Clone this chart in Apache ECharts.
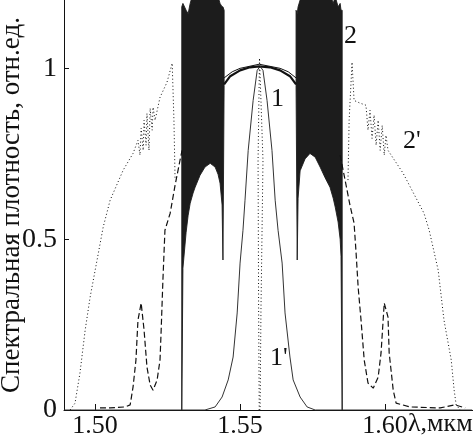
<!DOCTYPE html>
<html>
<head>
<meta charset="utf-8">
<script src="https://cdn.jsdelivr.net/npm/echarts@6/dist/echarts.min.js"></script>
<style>
  html, body { margin: 0; padding: 0; background: #fff; }
  #chart { width: 473px; height: 442px; }
</style>
</head>
<body>
<div id="chart"></div>
<script>
// tick labels
var xTicks = [1.50, 1.55, 1.60]
var yTicks = [0, 0.5, 1]

// curve 1 (input spectrum, solid)
var c1X = [1.4893, 1.5379, 1.5414, 1.5438, 1.5459, 1.5476, 1.5490, 1.5500, 1.5510, 1.5517, 1.5528, 1.5545, 1.5559, 1.5569, 1.5579, 1.5593, 1.5610, 1.5621, 1.5631, 1.5645, 1.5655, 1.5672, 1.5683, 1.5707, 1.5731, 1.5759, 1.6300]
var c1Y = [0, 0, 0.009, 0.038, 0.088, 0.155, 0.284, 0.430, 0.526, 0.614, 0.760, 0.906, 0.994, 1.006, 0.994, 0.906, 0.760, 0.614, 0.526, 0.430, 0.284, 0.155, 0.088, 0.038, 0.009, 0, 0]

// curve 1' (dotted narrow spike)
var c1pX = [1.5566, 1.5564, 1.5562, 1.5567, 1.5579, 1.5572, 1.5569]
var c1pY = [0, 0.29, 0.73, 1.03, 0.73, 0.29, 0]

// curve 2, central smooth part (double line)
var c2ArcX = [1.5445, 1.5466, 1.5500, 1.5534, 1.5566, 1.5603, 1.5638, 1.5672, 1.5693]
var c2ArcY = [0.953, 0.977, 0.994, 1.003, 1.006, 1.003, 0.994, 0.977, 0.953]
var c2Arc2X = [1.5445, 1.5473, 1.5500, 1.5566, 1.5638, 1.5666, 1.5693]
var c2Arc2Y = [0.972, 0.990, 1.000, 1.012, 1.000, 0.990, 0.972]

// curve 2, oscillating blocks: lower / upper envelopes
var blkLX = [1.5299, 1.5303, 1.5314, 1.5321, 1.5328, 1.5338, 1.5345, 1.5362, 1.5379, 1.5397, 1.5414, 1.5424, 1.5431, 1.5438, 1.5441, 1.5445]
var blkLLow = [0, 0.415, 0.52, 0.57, 0.605, 0.635, 0.652, 0.687, 0.711, 0.722, 0.711, 0.69, 0.664, 0.60, 0.439, 0.95]
var blkLHigh = [1.18, 1.19, 1.17, 1.16, 1.19, 1.22, 1.25, 1.25, 1.24, 1.25, 1.23, 1.21, 1.19, 1.18, 1.18, 1.17]
var blkRX = [1.5693, 1.5697, 1.5700, 1.5707, 1.5724, 1.5741, 1.5759, 1.5776, 1.5793, 1.5810, 1.5821, 1.5828, 1.5838, 1.5845, 1.5848, 1.5852]
var blkRLow = [0.95, 0.439, 0.62, 0.70, 0.735, 0.751, 0.74, 0.711, 0.68, 0.652, 0.62, 0.594, 0.55, 0.50, 0.45, 0]
var blkRHigh = [1.17, 1.16, 1.18, 1.20, 1.25, 1.25, 1.24, 1.25, 1.25, 1.22, 1.19, 1.21, 1.18, 1.19, 1.17, 1.17]

// curve 2' dashed, left and right wings
var c2dLX = [1.5017, 1.5052, 1.5103, 1.5121, 1.5131, 1.5141, 1.5148, 1.5159, 1.5169, 1.5179, 1.5190, 1.5200, 1.5214, 1.5224, 1.5228, 1.5234, 1.5241, 1.5259, 1.5276, 1.5293, 1.5300]
var c2dLY = [0.006, 0.006, 0.009, 0.015, 0.067, 0.146, 0.263, 0.313, 0.234, 0.126, 0.073, 0.058, 0.088, 0.146, 0.234, 0.380, 0.526, 0.576, 0.658, 0.731, 0.760]
var c2dRX = [1.5845, 1.5862, 1.5879, 1.5893, 1.5900, 1.5907, 1.5917, 1.5928, 1.5941, 1.5959, 1.5976, 1.5986, 1.5997, 1.6010, 1.6014, 1.6028, 1.6038, 1.6086, 1.6190, 1.6241, 1.6276]
var c2dRY = [0.746, 0.673, 0.599, 0.547, 0.459, 0.360, 0.263, 0.146, 0.079, 0.064, 0.096, 0.167, 0.313, 0.272, 0.167, 0.058, 0.020, 0.009, 0.006, 0.015, 0.006]

// curve 2' dotted, outer envelope
var c2pLX = [1.4914, 1.4931, 1.4948, 1.4966, 1.4983, 1.5007, 1.5028, 1.5052, 1.5097, 1.5131, 1.5148, 1.5155, 1.5159, 1.5166, 1.5169, 1.5176, 1.5179, 1.5186, 1.5190, 1.5197, 1.5200, 1.5207, 1.5224, 1.5248, 1.5266, 1.5272, 1.5276]
var c2pLY = [0, 0.020, 0.108, 0.234, 0.330, 0.439, 0.535, 0.614, 0.702, 0.751, 0.789, 0.746, 0.825, 0.760, 0.848, 0.775, 0.868, 0.760, 0.883, 0.819, 0.886, 0.848, 0.915, 0.959, 1.015, 0.848, 0.673]
var c2pRX = [1.5872, 1.5876, 1.5886, 1.5893, 1.5914, 1.5934, 1.5941, 1.5948, 1.5955, 1.5962, 1.5969, 1.5976, 1.5983, 1.5990, 1.5997, 1.6003, 1.6010, 1.6062, 1.6134, 1.6152, 1.6183, 1.6203, 1.6228, 1.6238, 1.6245, 1.6259]
var c2pRY = [0.673, 0.848, 1.018, 0.906, 0.898, 0.892, 0.819, 0.877, 0.795, 0.863, 0.775, 0.848, 0.760, 0.833, 0.746, 0.804, 0.760, 0.693, 0.576, 0.526, 0.409, 0.263, 0.146, 0.058, 0.015, 0]

var FONT = '"Liberation Serif", "DejaVu Serif", serif'
var INK = '#111'

function zip (xs, ys) {
  return xs.map(function (x, i) { return [x, ys[i]] })
}
function line (data, style) {
  return {
    type: 'line',
    data: data,
    symbol: 'none',
    silent: true,
    animation: false,
    lineStyle: Object.assign({color: INK, width: 1}, style)
  }
}
// filled oscillation region between two envelopes
function block (xs, lo, hi) {
  return {
    type: 'custom',
    silent: true,
    clip: true,
    animation: false,
    data: [0],
    renderItem: function (params, api) {
      let pts = []
      xs.forEach(function (x, i) { pts.push(api.coord([x, hi[i]])) })
      for (let i = xs.length - 1; i >= 0; i--) pts.push(api.coord([xs[i], lo[i]]))
      return {
        type: 'polygon',
        shape: {points: pts},
        style: {fill: '#1c1c1c', stroke: '#1c1c1c', lineWidth: 0.9}
      }
    }
  }
}

var series = [
  block(blkLX, blkLLow, blkLHigh),
  block(blkRX, blkRLow, blkRHigh),
  line(zip(c2ArcX, c2ArcY), {width: 2.2}),
  line(zip(c2Arc2X, c2Arc2Y), {width: 1}),
  line(zip(c1X, c1Y), {width: 1, color: '#333'}),
  line(zip(c1pX, c1pY), {width: 1, type: [1, 2.5]}),
  line(zip(c2dLX, c2dLY), {width: 1.2, type: [6, 3]}),
  line(zip(c2dRX, c2dRY), {width: 1.2, type: [6, 3]}),
  line(zip(c2pLX, c2pLY), {width: 1, type: [1, 2.5]}),
  line(zip(c2pRX, c2pRY), {width: 1, type: [1, 2.5]})
]

var chart = echarts.init(document.getElementById('chart'), null, {renderer: 'canvas'})
chart.setOption({
  animation: false,
  grid: {left: 64, right: 0, top: 0, bottom: 32, containLabel: false, outerBoundsMode: 'none'},
  xAxis: {
    type: 'value',
    min: 1.4893,
    max: 1.6303,
    splitLine: {show: false},
    axisLine: {lineStyle: {color: INK, width: 1}},
    axisTick: {inside: true, length: 6, customValues: xTicks, lineStyle: {color: INK}},
    axisLabel: {
      customValues: xTicks,
      color: INK,
      fontFamily: FONT,
      fontSize: 26,
      margin: 3,
      formatter: function (v) { return v.toFixed(2) }
    }
  },
  yAxis: {
    type: 'value',
    min: 0,
    max: 1.2,
    name: 'Спектральная плотность, отн.ед.',
    nameLocation: 'middle',
    nameGap: 39,
    nameMoveOverlap: false,
    nameTextStyle: {color: INK, fontFamily: FONT, fontSize: 27},
    splitLine: {show: false},
    axisLine: {show: true, lineStyle: {color: INK, width: 1}},
    axisTick: {inside: true, length: 5, customValues: yTicks, lineStyle: {color: INK}},
    axisLabel: {
      customValues: yTicks,
      color: INK,
      fontFamily: FONT,
      fontSize: 28,
      margin: 7
    }
  },
  graphic: [
    {type: 'text', left: 271, top: 86, style: {text: '1', font: '26px ' + FONT, fill: INK}},
    {type: 'text', left: 344, top: 23, style: {text: '2', font: '26px ' + FONT, fill: INK}},
    {type: 'text', left: 403, top: 128, style: {text: "2'", font: '26px ' + FONT, fill: INK}},
    {type: 'text', left: 270, top: 345, style: {text: "1'", font: '26px ' + FONT, fill: INK}},
    {type: 'text', left: 408, top: 411, style: {text: 'λ,мкм', font: '26px ' + FONT, fill: INK}}
  ],
  series: series
})
</script>
</body>
</html>
